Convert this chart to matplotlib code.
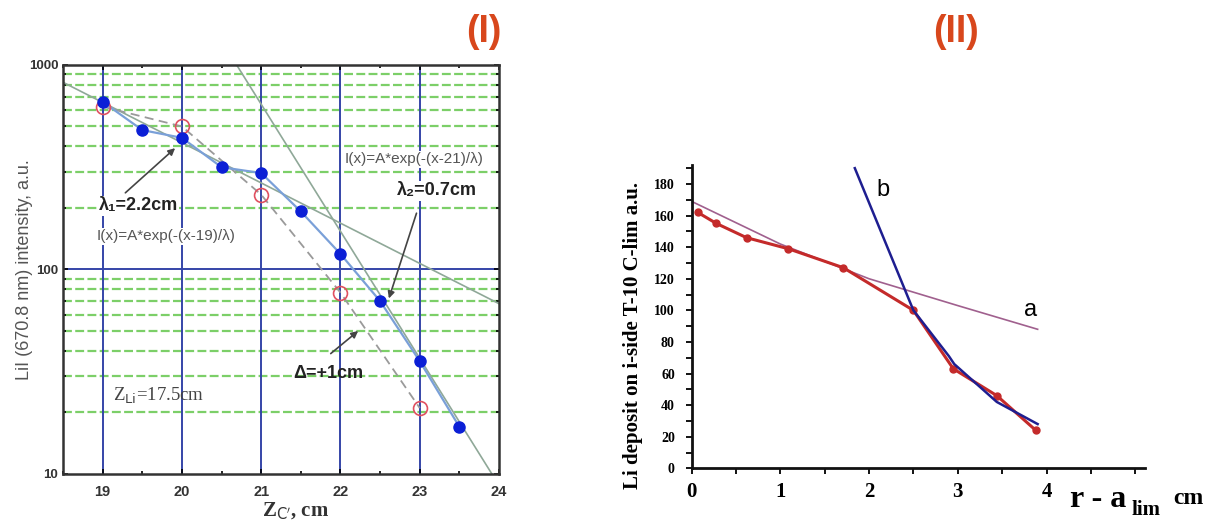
import matplotlib.pyplot as plt
from matplotlib.ticker import FixedLocator, NullFormatter, MultipleLocator

# ---- panel (I): LiI intensity vs Z_C (log scale)
z_meas = [19, 19.5, 20, 20.5, 21, 21.5, 22, 22.5, 23, 23.5]
i_meas = [660, 480, 440, 316, 296, 192, 119, 70, 35.6, 17]
z_shift = [19, 20, 21, 22, 23]
i_shift = [625, 500, 232, 77, 21]
fit1_x = [18.5, 24]
fit1_y = [822, 68]
fit2_x = [20.69, 23.91]
fit2_y = [1000, 10]

# ---- panel (II): Li deposit vs r - a_lim
r_dep = [0.07, 0.28, 0.62, 1.09, 1.71, 2.5, 2.95, 3.44, 3.88]
li_dep = [162, 155, 146, 139, 127, 100, 63, 46, 24]
a_x = [0, 1, 2, 3, 3.9]
a_y = [169, 142, 120, 103, 88]
b_x = [1.84, 2.5, 2.9, 2.96, 3.44, 3.9]
b_y = [190, 100, 71, 66, 42, 28]

title_col = '#d8471c'
sans = ['Liberation Sans', 'DejaVu Sans']
serif = 'Liberation Serif'
fig = plt.figure(figsize=(12.1, 5.26), dpi=100)

ax1 = fig.add_axes([0.0521, 0.099, 0.3603, 0.7776])
ax1.set_yscale('log')
ax1.set_xlim(18.5, 24)
ax1.set_ylim(10, 1000)

minor = [m * d for d in (10, 100) for m in range(2, 10)]
for v in minor:
    ax1.axhline(v, color='#7ccf68', lw=1.6, ls=(0, (4, 1.5)), zorder=1)
for v in [19, 20, 21, 22, 23]:
    ax1.axvline(v, color='#3545a8', lw=1.4, zorder=1)
ax1.axhline(100, color='#3545a8', lw=1.4, zorder=1)

ax1.plot(fit1_x, fit1_y, color='#8fa898', lw=1.2, zorder=2)
ax1.plot(fit2_x, fit2_y, color='#8fa898', lw=1.2, zorder=2)
ax1.plot(z_shift, i_shift, color='#9a9a9a', lw=1.3, ls=(0, (5, 3)), zorder=2)
ax1.plot(z_meas, i_meas, color='#7aa0d8', lw=1.6, zorder=3)
ax1.plot(z_meas, i_meas, 'o', color='#0b1fd6', ms=8, zorder=5)
ax1.plot(z_shift, i_shift, 'o', mfc='none', mec='#e05060', ms=10, mew=1.2, zorder=4)

box = dict(facecolor='white', edgecolor='none', pad=1)
ax1.text(19.45, 205, 'λ₁=2.2cm', fontsize=13, fontweight='bold', family=sans,
         ha='center', va='center', color='#222', bbox=box, zorder=6)
ax1.text(19.8, 145, 'I(x)=A*exp(-(x-19)/λ)', fontsize=11, family=sans,
         ha='center', va='center', color='#555', bbox=box, zorder=6)
ax1.text(22.93, 345, 'I(x)=A*exp(-(x-21)/λ)', fontsize=11, family=sans,
         ha='center', va='center', color='#555', bbox=box, zorder=6)
ax1.text(23.22, 243, 'λ₂=0.7cm', fontsize=13, fontweight='bold', family=sans,
         ha='center', va='center', color='#222', bbox=box, zorder=6)
ax1.text(21.85, 31, 'Δ=+1cm', fontsize=13, fontweight='bold', family=sans,
         ha='center', va='center', color='#222', zorder=6)
ax1.text(19.13, 24, r'Z$_{\rm Li}$=17.5cm', fontsize=13.5, family=serif,
         ha='left', va='center', color='#444', zorder=6)

arw = dict(arrowstyle='-|>', color='#444', lw=1.2, mutation_scale=10)
ax1.annotate('', xy=(19.94, 400), xytext=(19.26, 232), arrowprops=arw, zorder=6)
ax1.annotate('', xy=(22.6, 70), xytext=(22.97, 194), arrowprops=arw, zorder=6)
ax1.annotate('', xy=(22.25, 51), xytext=(21.85, 38), arrowprops=arw, zorder=6)

ax1.yaxis.set_major_locator(FixedLocator([10, 100, 1000]))
ax1.yaxis.set_minor_locator(FixedLocator(minor))
ax1.yaxis.set_minor_formatter(NullFormatter())
ax1.set_yticklabels(['10', '100', '1000'])
ax1.xaxis.set_major_locator(FixedLocator([19, 20, 21, 22, 23, 24]))
ax1.xaxis.set_minor_locator(MultipleLocator(0.5))
ax1.tick_params(which='both', direction='in', top=True, right=True,
                labelcolor='#333', width=1.2)
ax1.tick_params(axis='y', labelsize=9.5)
ax1.tick_params(axis='x', labelsize=10.5, pad=8)
for lab in ax1.get_xticklabels() + ax1.get_yticklabels():
    lab.set_fontweight('bold')
    lab.set_family(sans)
for s in ax1.spines.values():
    s.set_linewidth(1.8)
    s.set_color('#333')
ax1.set_ylabel('LiI (670.8 nm) intensity, a.u.', fontsize=13, color='#555',
               family=sans)
ax1.yaxis.set_label_coords(-0.07, 0.5)
ax1.set_xlabel(r"Z$_{\rm C'}$, cm", fontsize=15, family=serif,
               fontweight='bold', color='#333', labelpad=0)
ax1.xaxis.set_label_coords(0.534, -0.065)

fig.text(0.4, 0.939, '(I)', fontsize=27, fontweight='bold', color=title_col,
         family=sans, ha='center', va='center')
fig.text(0.79, 0.939, '(II)', fontsize=27, fontweight='bold', color=title_col,
         family=sans, ha='center', va='center')

# ---- panel (II)
ax2 = fig.add_axes([0.5715, 0.1097, 0.3748, 0.5766])
ax2.set_xlim(0, 5.11)
ax2.set_ylim(0, 192)
ax2.plot(a_x, a_y, color='#a0608e', lw=1.2, zorder=2)
ax2.plot(r_dep, li_dep, '-o', color='#c42a2a', lw=2.2, ms=5, zorder=3)
ax2.plot(b_x, b_y, color='#1e1e90', lw=1.8, zorder=4)
ax2.text(3.82, 100, 'a', fontsize=17, family=sans, ha='center', va='center')
ax2.text(2.16, 176, 'b', fontsize=17, family=sans, ha='center', va='center')

ax2.spines['top'].set_visible(False)
ax2.spines['right'].set_visible(False)
for s in ('left', 'bottom'):
    ax2.spines[s].set_linewidth(2)
    ax2.spines[s].set_color('#111')
ax2.yaxis.set_major_locator(MultipleLocator(20))
ax2.yaxis.set_minor_locator(MultipleLocator(10))
ax2.xaxis.set_major_locator(FixedLocator([0, 1, 2, 3, 4]))
ax2.xaxis.set_minor_locator(FixedLocator([0.5, 1.5, 2.5, 3.5, 4.5, 5]))
ax2.tick_params(which='both', direction='out', width=1.3, length=4)
ax2.tick_params(axis='y', labelsize=10, pad=8)
ax2.tick_params(axis='x', labelsize=15, pad=6)
for lab in ax2.get_xticklabels() + ax2.get_yticklabels():
    lab.set_family(serif)
    lab.set_fontweight('bold')
fig.text(0.523, 0.363, 'Li deposit on i-side T-10 C-lim a.u.', fontsize=15,
         family=serif, fontweight='bold', rotation=90, ha='center', va='center')
fig.text(0.884, 0.036, 'r - a', fontsize=23, family=serif, fontweight='bold',
         ha='left', va='baseline')
fig.text(0.935, 0.021, 'lim', fontsize=15, family=serif, fontweight='bold',
         ha='left', va='baseline')
fig.text(0.97, 0.042, 'cm', fontsize=17, family=serif, fontweight='bold',
         ha='left', va='baseline')

fig.savefig('out.png', dpi=100)
